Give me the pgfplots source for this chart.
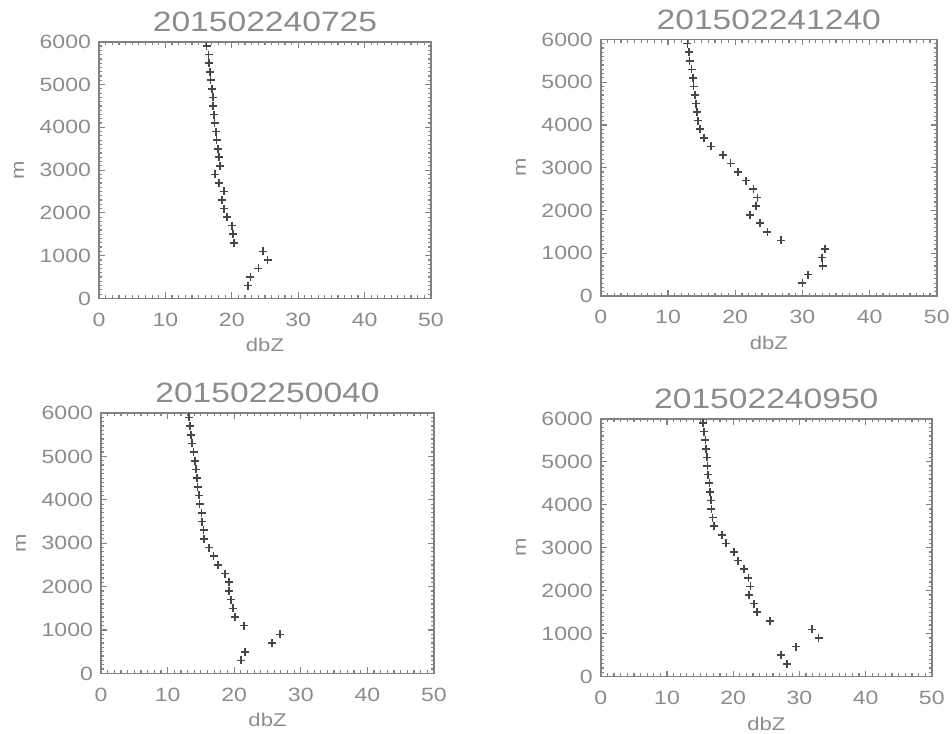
\documentclass[border=0pt]{standalone}
\usepackage{fontspec}
\setmainfont{Liberation Sans}[FakeStretch=1.2]
\usepackage{pgfplots}
\pgfplotsset{compat=1.18}

\definecolor{txtgray}{RGB}{140,140,140}
\definecolor{axgray}{RGB}{130,130,130}
\definecolor{markgray}{RGB}{70,70,70}

% one IDL-like profile panel
\pgfplotsset{
  profile/.style={
    scale only axis,
    xmin=0, xmax=50, ymin=0, ymax=6000,
    xtick={0,10,...,50}, ytick={0,1000,...,6000},
    minor tick num=9,
    tick align=inside,
    major tick length=3pt, minor tick length=1.6pt,
    axis line style={axgray, line width=0.7pt},
    every tick/.style={axgray, line width=0.6pt},
    /pgf/number format/assume math mode=true,
    /pgf/number format/1000 sep={},
    tick label style={font=\fontsize{9.6}{11}\selectfont, text=txtgray},
    xticklabel style={anchor=center, yshift=-10.5pt},
    yticklabel style={xshift=-0.5pt},
    xlabel={dbZ}, ylabel={m},
    every axis x label/.style={at={([yshift=-23.5pt]axis description cs:0.5,0)}, anchor=center, font=\fontsize{9.2}{10}\selectfont, text=txtgray},
    every axis y label/.style={at={([xshift=-40pt]axis description cs:0,0.5)}, rotate=90, anchor=center, font=\fontsize{9.2}{10}\selectfont, text=txtgray},
    every axis title/.style={at={([yshift=10pt]axis description cs:0.5,1)}, anchor=center, font=\fontsize{14}{16}\selectfont, text=txtgray},
    clip=false,
  },
  pts/.style={only marks, mark=+, mark size=2pt, color=markgray, mark options={line width=0.8pt}},
}

\begin{document}
\begin{tikzpicture}
\useasboundingbox (0,0) rectangle (476pt,366.5pt);

\begin{axis}[profile, at={(49.5pt,217.3pt)}, anchor=south west,
  width=166pt, height=128.3pt, title={201502240725}]
\addplot[pts] coordinates {
(22.4,300) (22.8,500) (24.0,700) (25.4,900) (24.7,1100) (20.3,1300)
(20.2,1500) (20.0,1700) (19.3,1900) (18.8,2100) (18.5,2300) (18.8,2500)
(18.1,2700) (17.5,2900) (18.2,3100) (18.1,3300) (17.9,3500) (17.7,3700)
(17.6,3900) (17.4,4100) (17.3,4300) (17.2,4500) (17.2,4700) (17.0,4900)
(16.8,5100) (16.7,5300) (16.6,5500) (16.5,5700) (16.2,5900)};
\end{axis}

\begin{axis}[profile, at={(300.4pt,218.5pt)}, anchor=south west,
  width=168pt, height=128.3pt, title={201502241240}]
\addplot[pts] coordinates {
(30.0,300) (30.8,500) (33.0,700) (32.9,900) (33.4,1100) (26.8,1300)
(24.8,1500) (23.7,1700) (22.2,1900) (23.1,2100) (23.3,2300) (22.7,2500)
(21.6,2700) (20.4,2900) (19.3,3100) (18.2,3300) (16.4,3500) (15.4,3700)
(14.8,3900) (14.5,4100) (14.3,4300) (14.2,4500) (14.0,4700) (13.8,4900)
(13.7,5100) (13.5,5300) (13.2,5500) (13.1,5700) (12.9,5900)};
\end{axis}

\begin{axis}[profile, at={(50.5pt,29.8pt)}, anchor=south west,
  width=166.5pt, height=130.2pt, title={201502250040}]
\addplot[pts] coordinates {
(21.0,300) (21.6,500) (25.7,700) (26.9,900) (21.5,1100) (20.1,1300)
(19.8,1500) (19.5,1700) (19.2,1900) (19.2,2100) (18.6,2300) (17.6,2500)
(16.9,2700) (16.2,2900) (15.5,3100) (15.4,3300) (15.2,3500) (15.1,3700)
(14.8,3900) (14.7,4100) (14.5,4300) (14.4,4500) (14.3,4700) (14.1,4900)
(13.9,5100) (13.7,5300) (13.5,5500) (13.4,5700) (13.2,5900)};
\end{axis}

\begin{axis}[profile, at={(300.4pt,28.2pt)}, anchor=south west,
  width=165.5pt, height=128.9pt, title={201502240950}]
\addplot[pts] coordinates {
(28.1,300) (27.2,500) (29.5,700) (32.9,900) (31.9,1100) (25.6,1300)
(23.6,1500) (23.1,1700) (22.4,1900) (22.6,2100) (22.3,2300) (21.6,2500)
(20.7,2700) (20.1,2900) (18.9,3100) (18.3,3300) (17.1,3500) (16.9,3700)
(16.7,3900) (16.6,4100) (16.5,4300) (16.4,4500) (16.2,4700) (16.1,4900)
(16.0,5100) (15.9,5300) (15.8,5500) (15.6,5700) (15.4,5900)};
\end{axis}
\end{tikzpicture}
\end{document}
